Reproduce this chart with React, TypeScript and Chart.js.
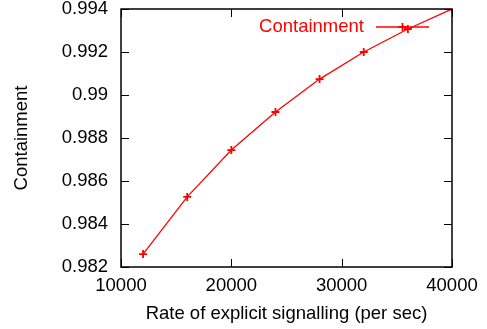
import React, { useEffect, useRef } from "react";
import { Chart, registerables } from "chart.js";

Chart.register(...registerables);

const rates = [12000, 16000, 20000, 24000, 28000, 32000, 36000, 40000];
const containment = [0.9826, 0.98526, 0.98744, 0.98921, 0.99074, 0.992, 0.99307, 0.994];
const seriesLabel = "Containment";
const xTitle = "Rate of explicit signalling (per sec)";
const yTitle = "Containment";

const FONT = "'Liberation Sans', Arial, Helvetica, sans-serif";
const FS = 18.5;

const framePlugin = {
  id: "gnuplotFrame",
  afterDatasetsDraw(chart: any) {
    const { ctx, chartArea: a, scales } = chart;
    const xs = scales.x;
    const ys = scales.y;
    const tl = 8;
    ctx.save();
    ctx.strokeStyle = "#000";
    ctx.lineWidth = 1.5;
    ctx.strokeRect(a.left, a.top, a.right - a.left, a.bottom - a.top);
    ctx.lineWidth = 1;
    ctx.beginPath();
    xs.ticks.forEach((t: any) => {
      const px = Math.round(xs.getPixelForValue(t.value)) + 0.5;
      ctx.moveTo(px, a.bottom);
      ctx.lineTo(px, a.bottom - tl);
      ctx.moveTo(px, a.top);
      ctx.lineTo(px, a.top + tl);
    });
    ys.ticks.forEach((t: any) => {
      const py = Math.round(ys.getPixelForValue(t.value)) + 0.5;
      ctx.moveTo(a.left, py);
      ctx.lineTo(a.left + tl, py);
      ctx.moveTo(a.right, py);
      ctx.lineTo(a.right - tl, py);
    });
    ctx.stroke();

    // gnuplot-style key (top right, text left of sample)
    const ky = a.top + 18;
    const x1 = a.right - 76;
    const x2 = a.right - 23;
    ctx.fillStyle = "#ff0000";
    ctx.strokeStyle = "#ff0000";
    ctx.font = `${FS}px ${FONT}`;
    ctx.textAlign = "right";
    ctx.textBaseline = "middle";
    ctx.fillText(seriesLabel, x1 - 12, ky);
    ctx.lineWidth = 1.3;
    ctx.beginPath();
    ctx.moveTo(x1, ky);
    ctx.lineTo(x2, ky);
    ctx.stroke();
    const cx = (x1 + x2) / 2;
    ctx.lineWidth = 1.8;
    ctx.beginPath();
    ctx.moveTo(cx - 4, ky);
    ctx.lineTo(cx + 4, ky);
    ctx.moveTo(cx, ky - 4);
    ctx.lineTo(cx, ky + 4);
    ctx.stroke();
    ctx.restore();
  },
};

export default function App() {
  const ref = useRef<HTMLCanvasElement>(null);
  useEffect(() => {
    if (!ref.current) return;
    const chart = new Chart(ref.current, {
      type: "line",
      data: {
        datasets: [
          {
            label: seriesLabel,
            data: rates.map((r, i) => ({ x: r, y: containment[i] })),
            borderColor: "#ff0000",
            backgroundColor: "#ff0000",
            borderWidth: 1.3,
            pointStyle: "cross",
            pointRadius: 4,
            pointBorderWidth: 1.8,
            pointBorderColor: "#ff0000",
            fill: false,
            tension: 0,
          },
        ],
      },
      options: {
        animation: false,
        responsive: false,
        devicePixelRatio: 1,
        layout: { padding: { top: 9, right: 35, left: 0, bottom: 0 } },
        plugins: { legend: { display: false }, tooltip: { enabled: false } },
        scales: {
          x: {
            type: "linear",
            min: 10000,
            max: 40000,
            grid: { display: false, drawTicks: false },
            border: { display: false },
            ticks: {
              stepSize: 10000,
              padding: 8,
              color: "#000",
              font: { family: FONT, size: FS },
              callback: (v: any) => String(v),
              maxRotation: 0,
            },
            title: {
              display: true,
              text: xTitle,
              color: "#000",
              font: { family: FONT, size: FS },
              padding: { top: 0, bottom: 4 },
            },
            afterFit: (s: any) => {
              s.height = 62;
              s.paddingLeft = 0;
              s.paddingRight = 0;
            },
          },
          y: {
            type: "linear",
            min: 0.982,
            max: 0.994,
            grid: { display: false, drawTicks: false },
            border: { display: false },
            ticks: {
              stepSize: 0.002,
              padding: 13,
              color: "#000",
              font: { family: FONT, size: FS },
              callback: (v: any) => String(parseFloat(Number(v).toFixed(3))),
            },
            title: {
              display: true,
              text: yTitle,
              color: "#000",
              font: { family: FONT, size: FS },
              padding: { top: 11, bottom: 0 },
            },
            afterFit: (s: any) => {
              s.width = 121;
              s.paddingTop = 0;
              s.paddingBottom = 0;
            },
          },
        },
      },
      plugins: [framePlugin],
    });
    return () => chart.destroy();
  }, []);
  return (
    <div style={{ position: "fixed", left: 0, top: 0, width: 487, height: 329, background: "#fff" }}>
      <canvas ref={ref} width={487} height={329} />
    </div>
  );
}
